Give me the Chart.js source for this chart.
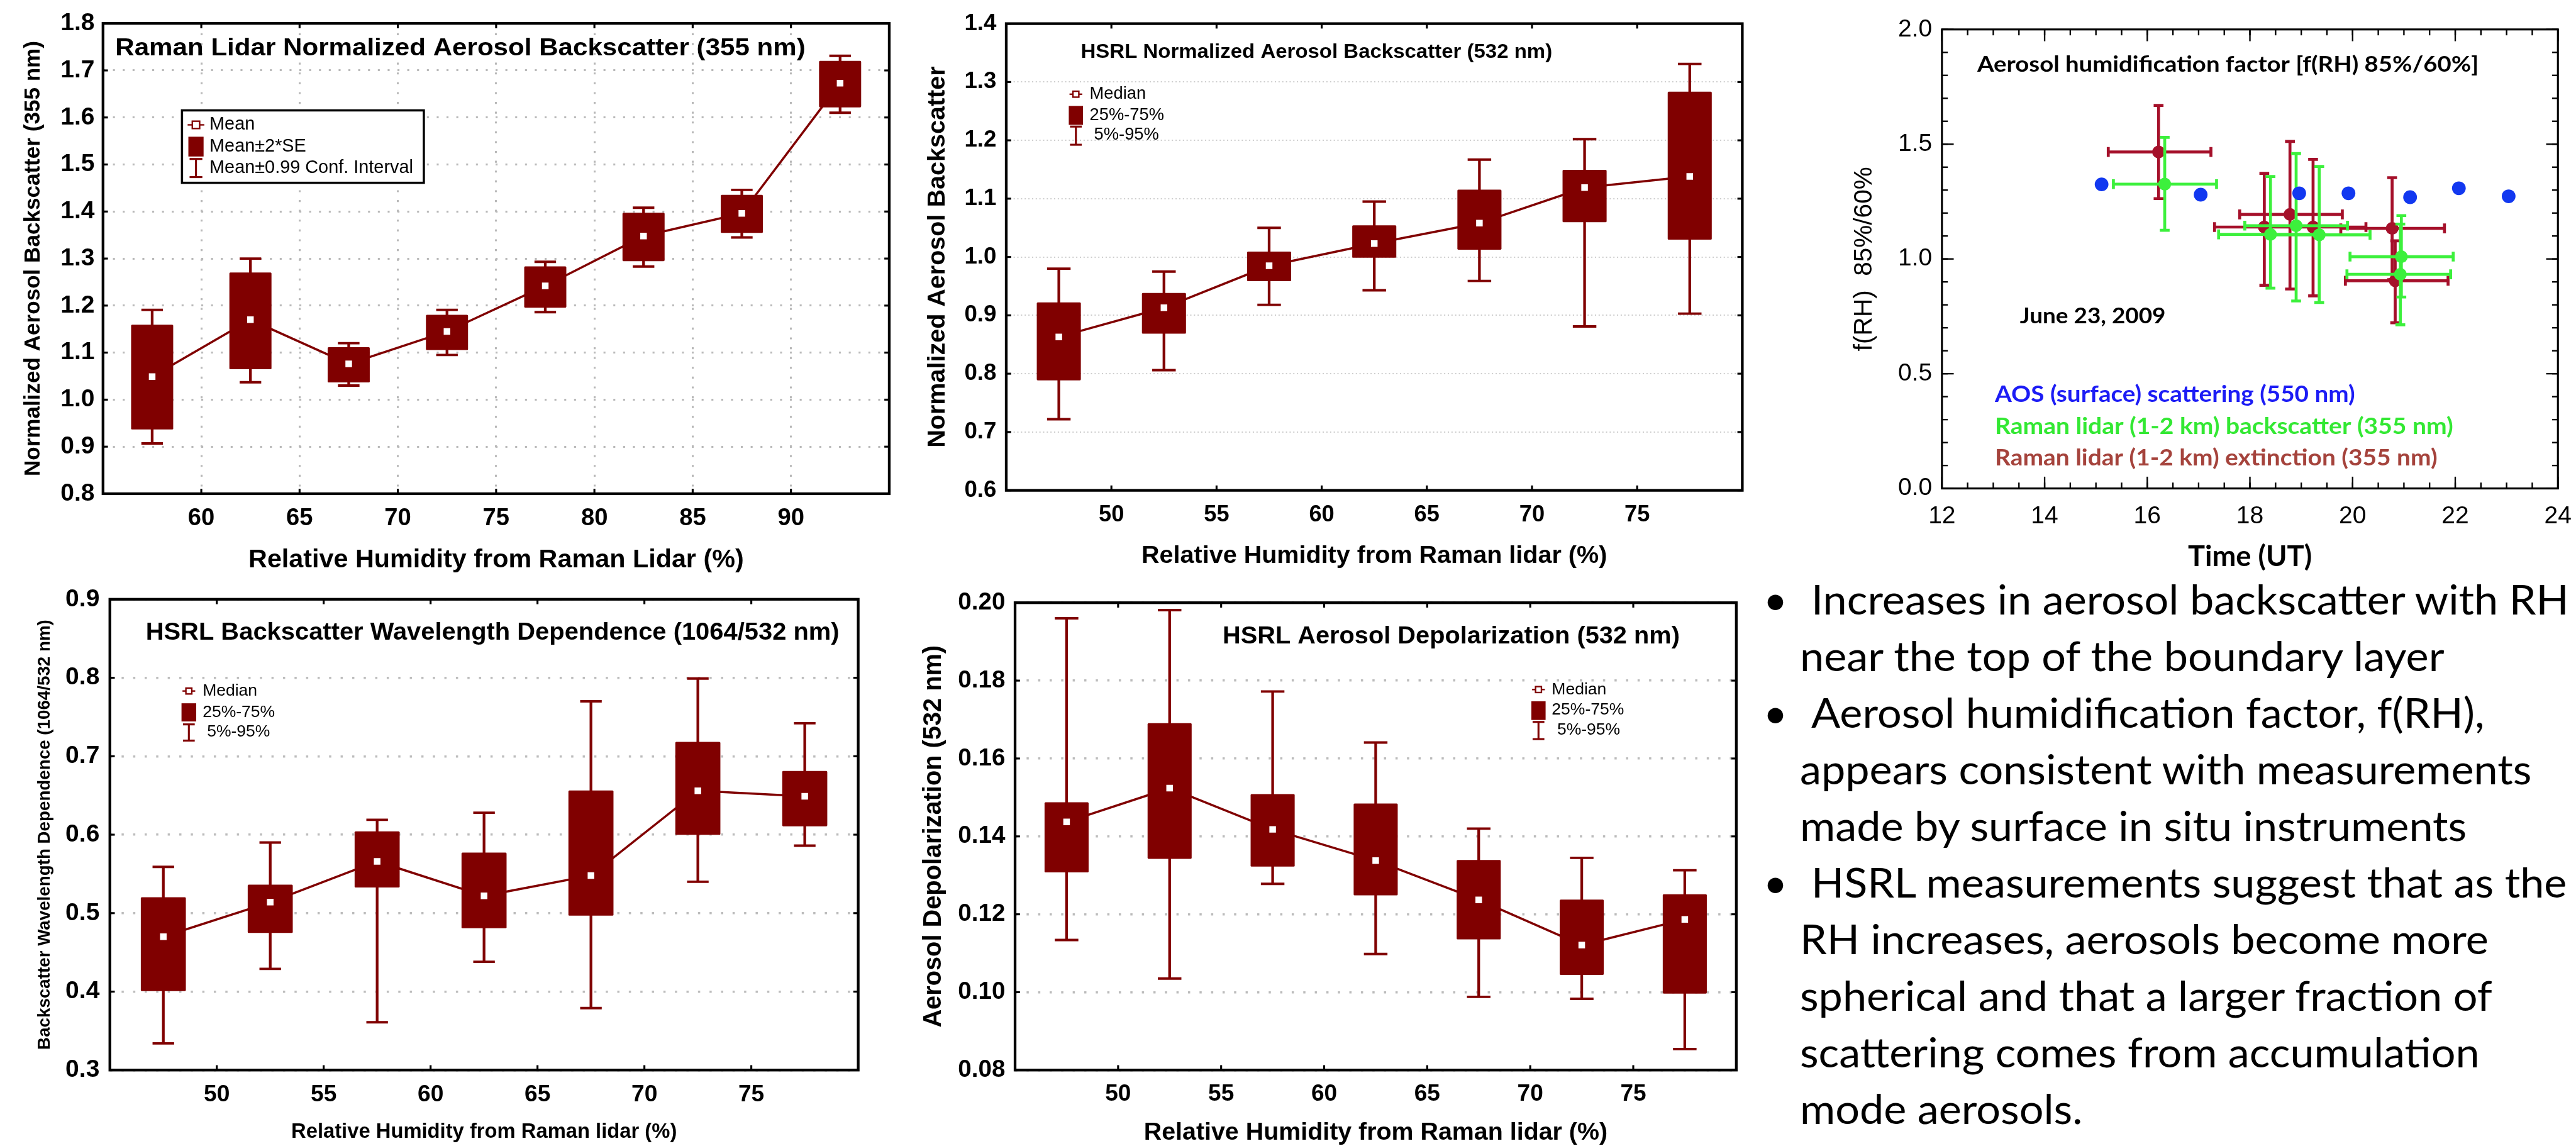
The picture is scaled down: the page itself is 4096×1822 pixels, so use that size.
<!DOCTYPE html>
<html>
<head>
<meta charset="utf-8">
<title>Aerosol backscatter vs RH</title>
<script src="https://cdn.jsdelivr.net/npm/chart.js"></script>
<style>
html,body{margin:0;padding:0;width:4096px;height:1822px;overflow:hidden;background:#fff;}
canvas{position:absolute;}
.ln{position:absolute;white-space:pre;font-family:Lato,'Open Sans',sans-serif;color:#000;transform-origin:0 0;line-height:normal;}
</style>
</head>
<body>
<script>
// ================= DATA =================
// Panel 1: Raman lidar normalized aerosol backscatter (355 nm)
const ramanRH      = [57.5, 62.5, 67.5, 72.5, 77.5, 82.5, 87.5, 92.5];
const ramanMean    = [1.049, 1.170, 1.076, 1.145, 1.242, 1.348, 1.396, 1.673];
const ramanSeLow   = [0.937, 1.065, 1.037, 1.106, 1.196, 1.295, 1.355, 1.622];
const ramanSeHigh  = [1.159, 1.270, 1.111, 1.180, 1.283, 1.397, 1.435, 1.720];
const ramanCiLow   = [0.907, 1.037, 1.030, 1.095, 1.186, 1.283, 1.345, 1.610];
const ramanCiHigh  = [1.191, 1.300, 1.120, 1.191, 1.293, 1.408, 1.446, 1.731];
const ramanXTicks  = [60, 65, 70, 75, 80, 85, 90];
const ramanXLabels = ['60', '65', '70', '75', '80', '85', '90'];
const ramanYTicks  = [0.8, 0.9, 1.0, 1.1, 1.2, 1.3, 1.4, 1.5, 1.6, 1.7, 1.8];
const ramanYLabels = ['0.8', '0.9', '1.0', '1.1', '1.2', '1.3', '1.4', '1.5', '1.6', '1.7', '1.8'];

// HSRL panels: shared RH bins
const hsrlRH      = [47.5, 52.5, 57.5, 62.5, 67.5, 72.5, 77.5];
const hsrlXTicks  = [50, 55, 60, 65, 70, 75];
const hsrlXLabels = ['50', '55', '60', '65', '70', '75'];

// Panel 2: HSRL normalized aerosol backscatter (532 nm)
const bscMedian = [0.863, 0.913, 0.985, 1.023, 1.058, 1.119, 1.138];
const bscQ1     = [0.789, 0.869, 0.959, 0.999, 1.013, 1.060, 1.030];
const bscQ3     = [0.922, 0.938, 1.009, 1.054, 1.115, 1.149, 1.283];
const bscP5     = [0.722, 0.806, 0.918, 0.943, 0.959, 0.881, 0.903];
const bscP95    = [0.980, 0.975, 1.050, 1.095, 1.167, 1.202, 1.331];
const bscYTicks  = [0.6, 0.7, 0.8, 0.9, 1.0, 1.1, 1.2, 1.3, 1.4];
const bscYLabels = ['0.6', '0.7', '0.8', '0.9', '1.0', '1.1', '1.2', '1.3', '1.4'];

// Panel 4: HSRL backscatter wavelength dependence (1064/532 nm)
const wdMedian = [0.470, 0.514, 0.566, 0.522, 0.548, 0.656, 0.649];
const wdQ1     = [0.401, 0.475, 0.533, 0.481, 0.497, 0.600, 0.611];
const wdQ3     = [0.520, 0.536, 0.604, 0.577, 0.656, 0.718, 0.681];
const wdP5     = [0.334, 0.429, 0.361, 0.438, 0.379, 0.540, 0.586];
const wdP95    = [0.559, 0.590, 0.619, 0.628, 0.770, 0.799, 0.742];
const wdYTicks  = [0.3, 0.4, 0.5, 0.6, 0.7, 0.8, 0.9];
const wdYLabels = ['0.3', '0.4', '0.5', '0.6', '0.7', '0.8', '0.9'];

// Panel 5: HSRL aerosol depolarization (532 nm)
const dpMedian = [0.1437, 0.1524, 0.1418, 0.1338, 0.1237, 0.1121, 0.1187];
const dpQ1     = [0.1308, 0.1343, 0.1323, 0.1249, 0.1136, 0.1045, 0.0997];
const dpQ3     = [0.1487, 0.1690, 0.1508, 0.1484, 0.1339, 0.1237, 0.1251];
const dpP5     = [0.1134, 0.1035, 0.1278, 0.1098, 0.0988, 0.0983, 0.0854];
const dpP95    = [0.1960, 0.1981, 0.1772, 0.1641, 0.1420, 0.1345, 0.1313];
const dpYTicks  = [0.08, 0.10, 0.12, 0.14, 0.16, 0.18, 0.20];
const dpYLabels = ['0.08', '0.10', '0.12', '0.14', '0.16', '0.18', '0.20'];

// Panel 3: aerosol humidification factor f(RH) 85%/60%, June 23, 2009
const aosTime = [15.11, 17.04, 18.96, 19.92, 21.12, 22.07, 23.04];
const aosFrh  = [1.325, 1.280, 1.286, 1.286, 1.269, 1.308, 1.273];
const rlBscTime   = [16.34, 18.40, 18.90, 19.35, 20.95, 20.93];
const rlBscTimeLo = [15.34, 17.39, 17.90, 18.35, 19.95, 19.89];
const rlBscTimeHi = [17.35, 19.40, 19.90, 20.34, 21.96, 21.91];
const rlBscFrh    = [1.326, 1.107, 1.145, 1.105, 1.010, 0.933];
const rlBscFrhLo  = [1.125, 0.873, 0.817, 0.810, 0.834, 0.713];
const rlBscFrhHi  = [1.530, 1.359, 1.459, 1.403, 1.189, 1.152];
const rlExtTime   = [16.22, 18.28, 18.78, 19.23, 20.77, 20.83];
const rlExtTimeLo = [15.24, 17.31, 17.80, 18.23, 19.77, 19.86];
const rlExtTimeHi = [17.24, 19.28, 19.80, 20.26, 21.79, 21.86];
const rlExtFrh    = [1.466, 1.139, 1.194, 1.139, 1.133, 0.905];
const rlExtFrhLo  = [1.263, 0.885, 0.869, 0.839, 0.910, 0.722];
const rlExtFrhHi  = [1.669, 1.373, 1.512, 1.434, 1.354, 1.079];
const frhXTicks  = [12, 14, 16, 18, 20, 22, 24];
const frhXLabels = ['12', '14', '16', '18', '20', '22', '24'];
const frhYTicks  = [0, 0.5, 1.0, 1.5, 2.0];
const frhYLabels = ['0.0', '0.5', '1.0', '1.5', '2.0'];

// ================= STYLE / HELPERS =================
const S = 0.78;
const MAROON = '#800000';
const SANS = "'Liberation Sans', Arial, Helvetica, sans-serif";
const HUM = "Lato, 'Open Sans', sans-serif";
const C_BLUE = '#1238f0', C_GREEN = '#3cf03c', C_RED = '#a5102a';

function fnt(weight, sizeRef, fam) { return weight + ' ' + (sizeRef * S) + 'px ' + (fam || SANS); }

function fitText(ctx, text, x, y, f, color, widthRef) {
  ctx.save();
  ctx.font = f; ctx.fillStyle = color; ctx.textBaseline = 'middle'; ctx.textAlign = 'left';
  const k = widthRef ? (widthRef * S) / ctx.measureText(text).width : 1;
  ctx.translate(x, y); ctx.scale(k, 1); ctx.fillText(text, 0, 0);
  ctx.restore();
}

function seg(ctx, x0, y0, x1, y1) { ctx.beginPath(); ctx.moveTo(x0, y0); ctx.lineTo(x1, y1); ctx.stroke(); }

function framePlugin(st) {
  return {
    id: 'frame',
    afterDatasetsDraw(chart) {
      const { ctx, chartArea: a, scales: { x, y } } = chart;
      ctx.save(); ctx.strokeStyle = '#000'; ctx.lineCap = 'butt';
      const tickSet = (xv, yv, len) => {
        xv.forEach(v => { const px = x.getPixelForValue(v); seg(ctx, px, a.bottom, px, a.bottom - len); seg(ctx, px, a.top, px, a.top + len); });
        yv.forEach(v => { const py = y.getPixelForValue(v); seg(ctx, a.left, py, a.left + len, py); seg(ctx, a.right, py, a.right - len, py); });
      };
      ctx.lineWidth = st.tickW * S;
      tickSet(x.ticks.map(t => t.value), y.ticks.map(t => t.value), st.tickLen * S);
      if (st.minorX) {
        const mx = [], my = [];
        for (let v = x.min; v <= x.max + 1e-9; v += st.minorX) mx.push(v);
        for (let v = y.min; v <= y.max + 1e-9; v += st.minorY) my.push(v);
        tickSet(mx, my, st.minorLen * S);
      }
      ctx.lineWidth = st.frameW * S;
      ctx.strokeRect(a.left, a.top, a.right - a.left, a.bottom - a.top);
      ctx.restore();
    }
  };
}

function annotations(p, draw) {
  return {
    id: 'ann',
    afterDraw(chart) {
      const ctx = chart.ctx;
      const X = v => (v - p.CL) * S, Y = v => (v - p.CT) * S;
      ctx.save(); draw(ctx, X, Y); ctx.restore();
    }
  };
}

function boxLegend(ctx, X, Y, L) {
  ctx.strokeStyle = MAROON; ctx.lineCap = 'butt';
  ctx.lineWidth = 3 * S;
  seg(ctx, X(L.cx - L.lineHalf), Y(L.rows[0]), X(L.cx + L.lineHalf), Y(L.rows[0]));
  ctx.fillStyle = '#fff';
  ctx.fillRect(X(L.cx - L.sq / 2), Y(L.rows[0] - L.sq / 2), L.sq * S, L.sq * S);
  ctx.strokeRect(X(L.cx - L.sq / 2), Y(L.rows[0] - L.sq / 2), L.sq * S, L.sq * S);
  ctx.fillStyle = MAROON;
  ctx.fillRect(X(L.cx - L.boxW / 2), Y(L.box[0]), L.boxW * S, (L.box[1] - L.box[0]) * S);
  ctx.lineWidth = 4 * S;
  seg(ctx, X(L.cx), Y(L.wh[0]), X(L.cx), Y(L.wh[1]));
  seg(ctx, X(L.cx - L.capHalf), Y(L.wh[0]), X(L.cx + L.capHalf), Y(L.wh[0]));
  seg(ctx, X(L.cx - L.capHalf), Y(L.wh[1]), X(L.cx + L.capHalf), Y(L.wh[1]));
  L.labels.forEach((t, i) => fitText(ctx, t, X(L.textX[i]), Y(L.rows[i]), fnt('normal', L.fontSize), '#000'));
}

function makeChart(p, datasets, plugins) {
  const cv = document.createElement('canvas');
  const w = Math.round((p.CR - p.CL) * S), h = Math.round((p.CB - p.CT) * S);
  cv.width = w; cv.height = h;
  cv.style.left = (p.CL * S) + 'px'; cv.style.top = (p.CT * S) + 'px';
  cv.style.width = w + 'px'; cv.style.height = h + 'px';
  document.body.appendChild(cv);
  const xt = p.xTitle, yt = p.yTitle;
  const dash = p.gridDash ? p.gridDash.map(d => d * S) : [];
  return new Chart(cv, {
    type: p.type || 'bar',
    data: { datasets },
    options: {
      responsive: false, animation: false, devicePixelRatio: 1, events: [],
      layout: { padding: { left: 0, top: (p.T - p.CT) * S, right: (p.CR - p.R) * S, bottom: 0 } },
      plugins: { legend: { display: false }, tooltip: { enabled: false }, title: { display: false } },
      scales: {
        x: {
          type: 'linear', position: 'bottom', min: p.xMin, max: p.xMax, offset: false,
          afterBuildTicks: s => { s.ticks = p.xTicks.map(v => ({ value: v })); },
          afterFit: s => { s.height = (p.CB - p.B) * S; },
          ticks: {
            autoSkip: false, maxRotation: 0, minRotation: 0, padding: p.xTickPad * S, color: '#000',
            font: { family: p.tickFamily || SANS, size: p.xTickSize * S, weight: p.tickWeight || 'bold', lineHeight: 1.2 },
            callback: (v, i) => p.xLabels[i]
          },
          grid: { display: !!p.gridX, drawTicks: false, color: p.gridColor, lineWidth: (p.gridW || 1) * S, offset: false },
          border: { display: false, dash },
          title: {
            display: true, text: xt.text, color: '#000',
            font: { family: xt.family || SANS, size: xt.size * S, weight: xt.weight || 'bold', lineHeight: 1.2 },
            padding: { top: 0, bottom: (p.CB - xt.Y - 0.6 * xt.size) * S }
          }
        },
        y: {
          type: 'linear', position: 'left', min: p.yMin, max: p.yMax,
          afterBuildTicks: s => { s.ticks = p.yTicks.map(v => ({ value: v })); },
          afterFit: s => { s.width = (p.L - p.CL) * S; },
          ticks: {
            autoSkip: false, padding: p.yTickPad * S, color: '#000',
            font: { family: p.tickFamily || SANS, size: p.yTickSize * S, weight: p.tickWeight || 'bold', lineHeight: 1.2 },
            callback: (v, i) => p.yLabels[i]
          },
          grid: { display: !!p.gridY, drawTicks: false, color: p.gridColor, lineWidth: (p.gridW || 1) * S },
          border: { display: false, dash },
          title: {
            display: true, text: yt.text, color: '#000',
            font: { family: yt.family || SANS, size: yt.size * S, weight: yt.weight || 'bold', lineHeight: 1.2 },
            padding: { top: (yt.X - p.CL - 0.6 * yt.size) * S, bottom: 0 }
          }
        }
      }
    },
    plugins
  });
}

function boxDatasets(xs, mid, q1, q3, lo, hi, st) {
  const pts = ys => xs.map((x, i) => ({ x, y: ys[i] }));
  return [
    { type: 'line', order: 1, showLine: false, data: pts(mid), pointStyle: 'rect', pointRadius: st.markR * S,
      pointBackgroundColor: '#fff', pointBorderWidth: 0 },
    { type: 'bar', order: 2, grouped: false, data: xs.map((x, i) => ({ x, y: [q1[i], q3[i]] })),
      backgroundColor: MAROON, borderWidth: 0, barThickness: st.boxW * S, borderRadius: 2 * S, borderSkipped: false },
    { type: 'line', order: 3, showLine: false, data: [...pts(lo), ...pts(hi)], pointStyle: 'line',
      pointRadius: st.capHalf * S, pointBorderWidth: st.capW * S, pointBorderColor: MAROON, pointBackgroundColor: MAROON },
    { type: 'line', order: 4, data: xs.flatMap((x, i) => [{ x, y: lo[i] }, { x, y: hi[i] }, { x, y: null }]),
      borderColor: MAROON, borderWidth: st.whW * S, pointRadius: 0, spanGaps: false },
    { type: 'line', order: 5, data: pts(mid), borderColor: MAROON, borderWidth: st.lineW * S, pointRadius: 0, tension: 0 }
  ];
}

function errDatasets(t, tLo, tHi, f, fLo, fHi, color, base) {
  const segV = t.flatMap((x, i) => [{ x, y: fLo[i] }, { x, y: fHi[i] }, { x, y: null }]);
  const segH = t.flatMap((x, i) => [{ x: tLo[i], y: f[i] }, { x: tHi[i], y: f[i] }, { x: null, y: null }]);
  const capsV = [...t.map((x, i) => ({ x, y: fLo[i] })), ...t.map((x, i) => ({ x, y: fHi[i] }))];
  const capsH = [...t.map((x, i) => ({ x: tLo[i], y: f[i] })), ...t.map((x, i) => ({ x: tHi[i], y: f[i] }))];
  return [
    { type: 'line', order: base, showLine: false, data: t.map((x, i) => ({ x, y: f[i] })), pointStyle: 'circle',
      pointRadius: 13 * S, pointBackgroundColor: color, pointBorderWidth: 0 },
    { type: 'line', order: base + 1, showLine: false, data: capsV, pointStyle: 'line', pointRadius: 10 * S,
      pointBorderWidth: 6 * S, pointBorderColor: color },
    { type: 'line', order: base + 1, showLine: false, data: capsH, pointStyle: 'line', pointRotation: 90, pointRadius: 10 * S,
      pointBorderWidth: 6 * S, pointBorderColor: color },
    { type: 'line', order: base + 2, data: segV, borderColor: color, borderWidth: 6 * S, pointRadius: 0, spanGaps: false },
    { type: 'line', order: base + 2, data: segH, borderColor: color, borderWidth: 6 * S, pointRadius: 0, spanGaps: false }
  ];
}

// ================= PANEL 1 =================
const P1 = {
  CL: 0, CT: 0, CR: 1840, CB: 1175, L: 210, T: 47.7, R: 1813, B: 1005.7,
  xMin: 55, xMax: 95, yMin: 0.8, yMax: 1.8,
  xTicks: ramanXTicks, xLabels: ramanXLabels, yTicks: ramanYTicks, yLabels: ramanYLabels,
  xTickSize: 49, xTickPad: 21, yTickSize: 50, yTickPad: 17,
  xTitle: { text: 'Relative Humidity from Raman Lidar (%)', size: 53, Y: 1141 },
  yTitle: { text: 'Normalized Aerosol Backscatter (355 nm)', size: 45, X: 69 },
  gridX: true, gridY: true, gridColor: '#b9b9b9', gridW: 4, gridDash: [4, 16]
};
makeChart(P1,
  boxDatasets(ramanRH, ramanMean, ramanSeLow, ramanSeHigh, ramanCiLow, ramanCiHigh,
    { boxW: 85, capHalf: 22, capW: 5, whW: 5.5, lineW: 4.5, markR: 9.5 }),
  [framePlugin({ frameW: 5.5, tickLen: 10, tickW: 4 }),
   annotations(P1, (ctx, X, Y) => {
     fitText(ctx, 'Raman Lidar Normalized Aerosol Backscatter (355 nm)', X(235), Y(99), fnt('bold', 50), '#000', 1407);
     ctx.fillStyle = '#fff'; ctx.strokeStyle = '#000'; ctx.lineWidth = 4.5 * S;
     ctx.fillRect(X(371), Y(225), 493 * S, 147.6 * S);
     ctx.strokeRect(X(371), Y(225), 493 * S, 147.6 * S);
     boxLegend(ctx, X, Y, { cx: 399.5, rows: [254.5, 299, 342.5], box: [278.7, 319], boxW: 31, wh: [324, 361],
       capHalf: 13, sq: 15, lineHalf: 17, textX: [427, 427, 427], fontSize: 37,
       labels: ['Mean', 'Mean±2*SE', 'Mean±0.99 Conf. Interval'] });
   })]);

// ================= PANEL 2 =================
const P2 = {
  CL: 1860, CT: 0, CR: 3580, CB: 1170, L: 2051, T: 45.5, R: 3556, B: 999,
  xMin: 45, xMax: 80, yMin: 0.6, yMax: 1.4,
  xTicks: hsrlXTicks, xLabels: hsrlXLabels, yTicks: bscYTicks, yLabels: bscYLabels,
  xTickSize: 46.5, xTickPad: 22, yTickSize: 47, yTickPad: 20,
  xTitle: { text: 'Relative Humidity from Raman lidar (%)', size: 50.7, Y: 1133 },
  yTitle: { text: 'Normalized Aerosol Backscatter', size: 50.7, X: 1911 },
  gridX: false, gridY: true, gridColor: '#cdcdcd', gridW: 2.5, gridDash: [2.5, 5]
};
makeChart(P2,
  boxDatasets(hsrlRH, bscMedian, bscQ1, bscQ3, bscP5, bscP95,
    { boxW: 89, capHalf: 24, capW: 5, whW: 5.5, lineW: 4.5, markR: 9.5 }),
  [framePlugin({ frameW: 5.5, tickLen: 10, tickW: 4 }),
   annotations(P2, (ctx, X, Y) => {
     fitText(ctx, 'HSRL Normalized Aerosol Backscatter (532 nm)', X(2203), Y(106), fnt('bold', 41), '#000', 961);
     boxLegend(ctx, X, Y, { cx: 2193, rows: [192, 235, 275], box: [216, 254.5], boxW: 29, wh: [258, 295],
       capHalf: 12, sq: 12, lineHalf: 13, textX: [2221, 2221, 2230], fontSize: 35,
       labels: ['Median', '25%-75%', '5%-95%'] });
   })]);

// ================= PANEL 3 =================
const P3 = {
  type: 'line',
  CL: 3740, CT: 0, CR: 5270, CB: 1175, L: 3959, T: 60, R: 5221, B: 995,
  xMin: 12, xMax: 24, yMin: 0, yMax: 2,
  xTicks: frhXTicks, xLabels: frhXLabels, yTicks: frhYTicks, yLabels: frhYLabels,
  xTickSize: 50, xTickPad: 27, yTickSize: 50, yTickPad: 20, tickWeight: 'normal',
  xTitle: { text: 'Time (UT)', size: 58, Y: 1135, family: HUM, weight: 'bold' },
  yTitle: { text: 'f(RH)  85%/60%', size: 52, X: 3801, weight: 'normal' },
  gridX: false, gridY: false, gridColor: 'rgba(0,0,0,0)'
};
makeChart(P3,
  [
    { type: 'line', order: 1, showLine: false, data: aosTime.map((x, i) => ({ x, y: aosFrh[i] })),
      pointStyle: 'circle', pointRadius: 14 * S, pointBackgroundColor: C_BLUE, pointBorderWidth: 0 },
    ...errDatasets(rlBscTime, rlBscTimeLo, rlBscTimeHi, rlBscFrh, rlBscFrhLo, rlBscFrhHi, C_GREEN, 10),
    ...errDatasets(rlExtTime, rlExtTimeLo, rlExtTimeHi, rlExtFrh, rlExtFrhLo, rlExtFrhHi, C_RED, 20)
  ],
  [framePlugin({ frameW: 4, tickLen: 24, tickW: 3, minorX: 0.5, minorY: 0.1, minorLen: 12 }),
   annotations(P3, (ctx, X, Y) => {
     fitText(ctx, 'Aerosol humidification factor [f(RH) 85%/60%]', X(4031), Y(132), fnt('bold', 44, HUM), '#000', 1022);
     fitText(ctx, 'June 23, 2009', X(4118), Y(645), fnt('bold', 43, HUM), '#000', 297);
     fitText(ctx, 'AOS (surface) scattering (550 nm)', X(4067), Y(804.5), fnt('bold', 47, HUM), '#1c1cf5', 734);
     fitText(ctx, 'Raman lidar (1-2 km) backscatter (355 nm)', X(4067), Y(869), fnt('bold', 47, HUM), '#33e833', 934);
     fitText(ctx, 'Raman lidar (1-2 km) extinction (355 nm)', X(4067), Y(933), fnt('bold', 47, HUM), '#a5433c', 902);
   })]);

// ================= PANEL 4 =================
const P4 = {
  CL: 0, CT: 1170, CR: 1780, CB: 2345, L: 224, T: 1212.5, R: 1750, B: 2180,
  xMin: 45, xMax: 80, yMin: 0.3, yMax: 0.9,
  xTicks: hsrlXTicks, xLabels: hsrlXLabels, yTicks: wdYTicks, yLabels: wdYLabels,
  xTickSize: 47.7, xTickPad: 22.4, yTickSize: 50, yTickPad: 21,
  xTitle: { text: 'Relative Humidity from Raman lidar (%)', size: 42, Y: 2306 },
  yTitle: { text: 'Backscatter Wavelength Dependence (1064/532 nm)', size: 35.6, X: 92 },
  gridX: false, gridY: true, gridColor: '#bdbdbd', gridW: 4.5, gridDash: [4.5, 19]
};
makeChart(P4,
  boxDatasets(hsrlRH, wdMedian, wdQ1, wdQ3, wdP5, wdP95,
    { boxW: 91, capHalf: 22, capW: 5, whW: 5.5, lineW: 4.5, markR: 9.5 }),
  [framePlugin({ frameW: 5.5, tickLen: 10, tickW: 4 }),
   annotations(P4, (ctx, X, Y) => {
     fitText(ctx, 'HSRL Backscatter Wavelength Dependence (1064/532 nm)', X(297), Y(1290), fnt('bold', 49), '#000', 1414);
     boxLegend(ctx, X, Y, { cx: 385, rows: [1408, 1452, 1491], box: [1433, 1470], boxW: 30, wh: [1476, 1509],
       capHalf: 12, sq: 12, lineHalf: 13, textX: [413, 413, 422], fontSize: 34,
       labels: ['Median', '25%-75%', '5%-95%'] });
   })]);

// ================= PANEL 5 =================
const P5 = {
  CL: 1860, CT: 1170, CR: 3570, CB: 2345, L: 2069, T: 1228, R: 3539, B: 2180,
  xMin: 45, xMax: 80, yMin: 0.08, yMax: 0.20,
  xTicks: hsrlXTicks, xLabels: hsrlXLabels, yTicks: dpYTicks, yLabels: dpYLabels,
  xTickSize: 47.5, xTickPad: 20.5, yTickSize: 49.5, yTickPad: 20,
  xTitle: { text: 'Relative Humidity from Raman lidar (%)', size: 50.5, Y: 2308 },
  yTitle: { text: 'Aerosol Depolarization (532 nm)', size: 51, X: 1903 },
  gridX: false, gridY: true, gridColor: '#bdbdbd', gridW: 4.5, gridDash: [4.5, 19]
};
makeChart(P5,
  boxDatasets(hsrlRH, dpMedian, dpQ1, dpQ3, dpP5, dpP95,
    { boxW: 89, capHalf: 24, capW: 5, whW: 5.5, lineW: 4.5, markR: 9.5 }),
  [framePlugin({ frameW: 5.5, tickLen: 10, tickW: 4 }),
   annotations(P5, (ctx, X, Y) => {
     fitText(ctx, 'HSRL Aerosol Depolarization (532 nm)', X(2492), Y(1298), fnt('bold', 49), '#000', 932);
     boxLegend(ctx, X, Y, { cx: 3136, rows: [1405, 1447, 1488], box: [1429, 1467], boxW: 29, wh: [1471, 1506],
       capHalf: 12, sq: 12, lineHalf: 13, textX: [3163, 3163, 3174], fontSize: 34,
       labels: ['Median', '25%-75%', '5%-95%'] });
   })]);

// ================= BULLET TEXT =================
const notes = [
  [true,  'Increases in aerosol backscatter with RH'],
  [false, 'near the top of the boundary layer'],
  [true,  'Aerosol humidification factor, f(RH),'],
  [false, 'appears consistent with measurements'],
  [false, 'made by surface in situ instruments'],
  [true,  'HSRL measurements suggest that as the'],
  [false, 'RH increases, aerosols become more'],
  [false, 'spherical and that a larger fraction of'],
  [false, 'scattering comes from accumulation'],
  [false, 'mode aerosols.']
];
function placeText(text, xRef, baseRef, sizeRef, centerX) {
  const d = document.createElement('div');
  d.className = 'ln';
  d.style.fontSize = (sizeRef * S) + 'px';
  d.textContent = text;
  const m = document.createElement('span');
  m.style.cssText = 'display:inline-block;width:0;height:0;';
  d.appendChild(m);
  document.body.appendChild(d);
  const off = m.offsetTop;
  let left = xRef * S;
  if (centerX) left -= d.offsetWidth / 2;
  d.style.left = left + 'px';
  d.style.top = (baseRef * S - off) + 'px';
  return d;
}
const lineDivs = [];
notes.forEach(([bullet, text], k) => {
  const base = 1253 + k * 115.4;
  if (bullet) placeText('•', 3619, base, 85, true);
  lineDivs.push(placeText(text, bullet ? 3692 : 3669, base, 85));
});
const kx = (1545 * S) / lineDivs[0].offsetWidth;
lineDivs.forEach(d => { d.style.transform = 'scaleX(' + kx + ')'; });
</script>
</body>
</html>
